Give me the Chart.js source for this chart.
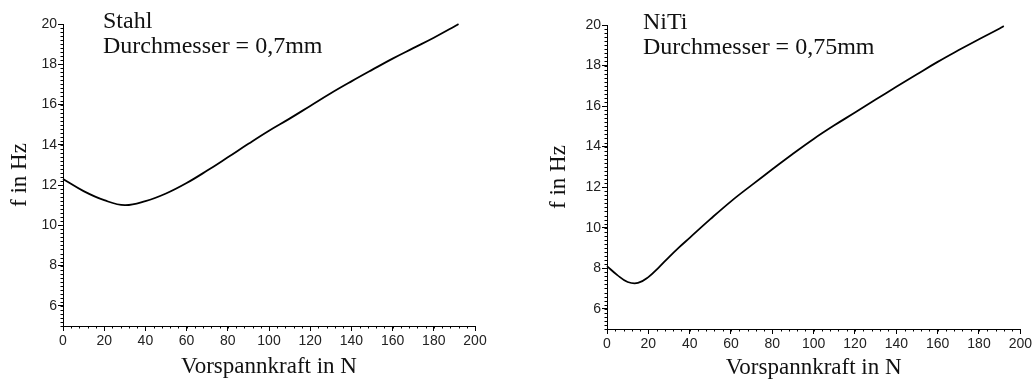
<!DOCTYPE html>
<html><head><meta charset="utf-8">
<script src="https://cdn.jsdelivr.net/npm/chart.js@4"></script>
<style>
html,body{margin:0;padding:0;background:#fff;}
#wrap{position:relative;width:1034px;height:383px;overflow:hidden;}
.box{position:absolute;top:0;height:383px;width:517px;}
</style></head><body>
<div id="wrap">
<div class="box" style="left:0"><canvas id="c1" width="517" height="383"></canvas></div>
<div class="box" style="left:517px"><canvas id="c2" width="517" height="383"></canvas></div>
</div>
<script>
// ---- data ----
const forceStahl = [0,10,20,30,40,50,60,70,80,90,100,110,120,130,140,150,160,170,180,190,192];
const freqStahl  = [12.3,11.7,11.25,11.0,11.2,11.58,12.1,12.72,13.38,14.05,14.7,15.3,15.93,16.56,17.15,17.72,18.28,18.8,19.32,19.88,20.0];

const forceNiTi = [0,5,10,15,20,25,30,35,40,50,60,70,80,90,100,110,120,130,140,150,160,170,180,190,192];
const freqNiTi  = [8.1,7.66,7.32,7.27,7.56,8.03,8.55,9.04,9.5,10.42,11.3,12.1,12.88,13.65,14.38,15.05,15.68,16.32,16.95,17.57,18.18,18.75,19.3,19.83,19.95];

const xTickValues = [0,20,40,60,80,100,120,140,160,180,200];
const yTickValues = [6,8,10,12,14,16,18,20];
const xTitle = 'Vorspannkraft in N';
const yTitle = 'f in Hz';
const notesStahl = ['Stahl','Durchmesser = 0,7mm'];
const notesNiTi  = ['NiTi','Durchmesser = 0,75mm'];

// ---- plugins ----
const minorTicks = {
  id:'minorTicks',
  afterDraw(chart, args, o){
    const ctx = chart.ctx, x = chart.scales.x, y = chart.scales.y;
    ctx.save(); ctx.strokeStyle = '#000'; ctx.lineWidth = 1;
    ctx.beginPath();
    for (let v = x.min; v <= x.max + 1e-9; v += o.xStep){
      const px = Math.round(x.getPixelForValue(v)) + 0.5;
      ctx.moveTo(px, x.top); ctx.lineTo(px, x.top + o.len);
    }
    for (let v = y.min; v <= y.max + 1e-9; v += o.yStep){
      const py = Math.round(y.getPixelForValue(v)) + 0.5;
      ctx.moveTo(y.right, py); ctx.lineTo(y.right - o.len, py);
    }
    ctx.stroke(); ctx.restore();
  }
};
const notes = {
  id:'notes',
  afterDraw(chart, args, o){
    const ctx = chart.ctx, a = chart.chartArea;
    ctx.save(); ctx.font = o.font; ctx.fillStyle = o.color; ctx.textBaseline = 'alphabetic';
    o.lines.forEach((t,i) => ctx.fillText(t, a.left + o.dx, a.top + o.dy + i*o.gap));
    ctx.restore();
  }
};

function makeChart(id, xs, ys, L){
  const pts = xs.map((v,i) => ({x:v, y:ys[i]}));
  return new Chart(document.getElementById(id), {
    type:'line',
    data:{datasets:[{data:pts, borderColor:'#000', borderWidth:1.8, pointRadius:0,
      tension:0.4, fill:false, clip:4}]},
    plugins:[minorTicks, notes],
    options:{
      responsive:false, animation:false, devicePixelRatio:1,
      layout:{padding:{top:L.top, right:L.right, left:0, bottom:0}},
      plugins:{legend:{display:false}, tooltip:{enabled:false},
        minorTicks:{xStep:4, yStep:0.2, len:2.5},
        notes:{lines:L.notes, dx:L.ndx, dy:L.ndy, gap:25, font:'24px "Liberation Serif"', color:'#111'}},
      scales:{
        x:{type:'linear', min:0, max:200,
          afterBuildTicks: s => { s.ticks = xTickValues.map(v => ({value:v})); },
          afterFit: s => { s.height = L.xh; },
          border:{display:true, color:'#000', width:1},
          grid:{display:true, drawOnChartArea:false, drawTicks:true, tickLength:5, color:'#000'},
          ticks:{font:{family:'Liberation Sans', size:14}, color:'#222', padding:2, maxRotation:0, autoSkip:false},
          title:{display:true, text:xTitle, color:'#111', font:{family:'Liberation Serif', size:23}, padding:{top:0, bottom:L.xtb}}
        },
        y:{type:'linear', min:5, max:20,
          afterBuildTicks: s => { s.ticks = yTickValues.map(v => ({value:v})); },
          afterFit: s => { s.width = L.yw; },
          border:{display:true, color:'#000', width:1},
          grid:{display:true, drawOnChartArea:false, drawTicks:true, tickLength:5, color:'#000'},
          ticks:{font:{family:'Liberation Sans', size:14}, color:'#222', padding:1},
          title:{display:true, text:yTitle, color:'#111', font:{family:'Liberation Serif', size:23}, padding:{top:L.ytp, bottom:0}}
        }
      }
    }
  });
}

makeChart('c1', forceStahl, freqStahl, {top:24, right:42, xh:57, yw:63, xtb:2, ytp:6, notes:notesStahl, ndx:40, ndy:4});
makeChart('c2', forceNiTi, freqNiTi, {top:25, right:13, xh:54, yw:90, xtb:1, ytp:28, notes:notesNiTi, ndx:36, ndy:4});
</script>
</body></html>
